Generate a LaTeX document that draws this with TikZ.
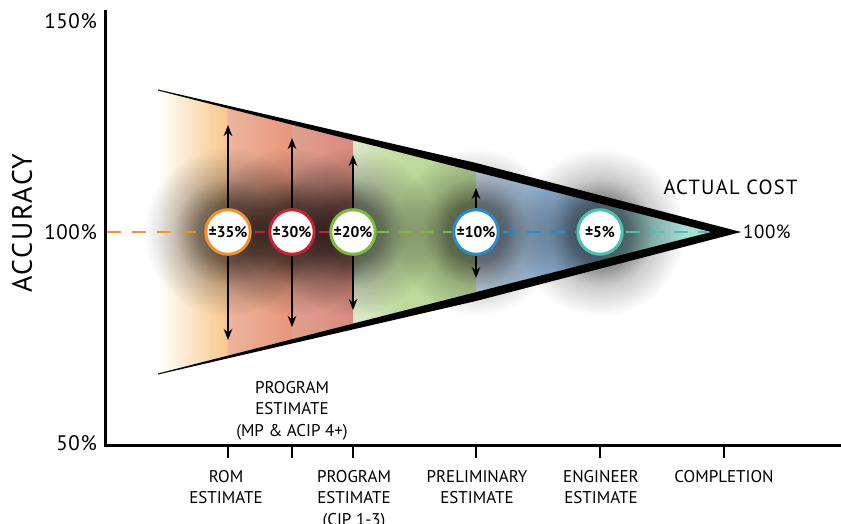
\documentclass[tikz,border=0pt]{standalone}
\usepackage{fontspec}
\setmainfont{PT Sans}
\usetikzlibrary{arrows.meta,fadings}
\definecolor{cOrange}{HTML}{F0922E}
\definecolor{cRed}{HTML}{C62233}
\definecolor{cGreen}{HTML}{7CBB40}
\definecolor{cBlue}{HTML}{2A8BC9}
\definecolor{cTeal}{HTML}{4EBFB1}
\definecolor{fOrange}{HTML}{F9C68A}
\definecolor{fSalmonA}{HTML}{EDB49E}
\definecolor{fSalmonB}{HTML}{E7967A}
\definecolor{fRoseA}{HTML}{E0A090}
\definecolor{fRoseB}{HTML}{D98A7E}
\definecolor{fGreenA}{HTML}{DCEACB}
\definecolor{fGreenB}{HTML}{BEDA9A}
\definecolor{fBlueA}{HTML}{D2E0EF}
\definecolor{fBlueB}{HTML}{98BDE0}
\definecolor{fTeal}{HTML}{A8DCD5}
\pgfdeclareradialshading{haloshade}{\pgfpoint{0bp}{0bp}}{color(0bp)=(white); color(9bp)=(white!75!black); color(16bp)=(white!30!black); color(25bp)=(black); color(50bp)=(black)}
\pgfdeclarefading{halo}{\pgfuseshading{haloshade}}
\begin{document}
\begin{tikzpicture}[x=1pt,y=-1pt,
  axisline/.style={line width=3pt},
  tickline/.style={line width=2.5pt},
  dashline/.style={line width=2.4pt, dash pattern=on 14pt off 11pt},
  estcircle/.style={circle, draw, fill=white, line width=3pt, minimum size=44.5pt, inner sep=0pt, font=\fontsize{15.5}{17}\selectfont\bfseries},
  vararrow/.style={line width=2pt, -{Stealth[length=11pt,width=8.5pt]}},
  ticklabel/.style={anchor=north, align=center, inner sep=0pt, font=\fontsize{17}{21.5}\selectfont},
  pctlabel/.style={anchor=east, inner sep=0pt, font=\fontsize{21}{24}\selectfont\addfontfeature{LetterSpace=3}},
  shadowhalo/.style={black, opacity=0.68, path fading=halo}
]
\useasboundingbox (0,0) rectangle (841,524);

% coloured fills inside the cone
\begin{scope}
  \clip (158,90.5) -- (711,232) -- (158,373.5) -- cycle;
  \shade[left color=white, right color=fOrange] (158,80) rectangle (228.5,385);
  \shade[left color=fSalmonA, right color=fSalmonB] (228,80) rectangle (292.5,385);
  \shade[left color=fRoseA, right color=fRoseB] (292,80) rectangle (353.5,385);
  \shade[left color=fGreenA, right color=fGreenB] (353,80) rectangle (405,385);
  \fill[fGreenB] (404,80) rectangle (476.5,385);
  \shade[left color=fBlueA, right color=fBlueB] (476,80) rectangle (545,385);
  \fill[fBlueB] (544,80) rectangle (600.5,385);
  \shade[left color=fBlueB!60!fTeal, right color=fTeal] (600,80) rectangle (640,385);
  \fill[fTeal] (639,80) rectangle (715,385);
\end{scope}

% centres
\coordinate (p1) at (228,232);
\coordinate (p2) at (292,232);
\coordinate (p3) at (353,232);
\coordinate (p4) at (476,232);
\coordinate (p5) at (600,232);

% soft shadows
\foreach \p in {p1,p2,p3,p4,p5}
  \fill[shadowhalo] (\p) circle (84);

% black cone edges
\fill (158,89.5) -- (476,163) -- (741,232) -- (711,232) -- (158,90.5) -- cycle;
\fill (158,374.5) -- (476,301) -- (741,232) -- (711,232) -- (158,373.5) -- cycle;

% axes
\coordinate (ytop) at (105,10);
\coordinate (orig) at (105,445);
\coordinate (xend) at (845,445);
\draw[axisline] (ytop) -- (orig) -- (xend);
\foreach \x in {228,292,353,476,600,724}
  \draw[tickline] (\x,445) -- (\x,458);

% axis labels
\node[pctlabel] (l150) at (97,21) {150\%};
\node[pctlabel] (l100) at (97,232) {100\%};
\node[pctlabel] (l50) at (97,443) {50\%};
\node[rotate=90, inner sep=0pt, font=\fontsize{28}{30}\selectfont\addfontfeature{LetterSpace=6}] (acc) at (22,223) {ACCURACY};

% estimate circles
\node[estcircle, draw=cOrange] (c1) at (p1) {±35\%};
\node[estcircle, draw=cRed] (c2) at (p2) {±30\%};
\node[estcircle, draw=cGreen] (c3) at (p3) {±20\%};
\node[estcircle, draw=cBlue] (c4) at (p4) {±10\%};
\node[estcircle, draw=cTeal] (c5) at (p5) {±5\%};

% range arrows
\coordinate (u1) at (228,125); \coordinate (d1) at (228,340);
\coordinate (u2) at (292,138); \coordinate (d2) at (292,327);
\coordinate (u3) at (353,155); \coordinate (d3) at (353,310);
\coordinate (u4) at (476,188); \coordinate (d4) at (476,278);
\foreach \i in {1,2,3,4}{
  \draw[vararrow] (c\i) -- (u\i);
  \draw[vararrow] (c\i) -- (d\i);
}

% dashed 100% line
\coordinate (dstart) at (107,232);
\coordinate (dend) at (709,232);
\draw[dashline, cOrange] (dstart) -- (c1);
\draw[dashline, cRed, dash pattern=on 10pt off 6pt, dash phase=-3pt] (c1) -- (c2);
\draw[dashline, cRed, dash pattern=on 10pt off 6pt, dash phase=-3pt] (c2) -- (c3);
\draw[dashline, cGreen, dash pattern=on 12pt off 10pt] (c3) -- (c4);
\draw[dashline, cBlue, dash pattern=on 14pt off 10pt, dash phase=-3pt] (c4) -- (c5);
\draw[dashline, cTeal, dash pattern=on 14pt off 10pt, dash phase=-2pt] (c5) -- (dend);

% right labels
\node[anchor=west, inner sep=0pt, font=\fontsize{19}{22}\selectfont\addfontfeature{LetterSpace=3}] (r100) at (743,232) {100\%};
\node[inner sep=0pt, font=\fontsize{20.5}{24}\selectfont\addfontfeature{LetterSpace=6}] (actual) at (730.5,187.5) {ACTUAL COST};

% program estimate above axis
\node[ticklabel] (progmp) at (292,381) {PROGRAM\\ESTIMATE\\(MP \& ACIP 4+)};

% tick labels
\node[ticklabel] (rom) at (226,470) {ROM\\ESTIMATE};
\node[ticklabel] (progcip) at (354,470) {PROGRAM\\ESTIMATE\\(CIP 1-3)};
\node[ticklabel] (prelim) at (477,470) {PRELIMINARY\\ESTIMATE};
\node[ticklabel] (eng) at (601,470) {ENGINEER\\ESTIMATE};
\node[ticklabel] (compl) at (724,470) {COMPLETION};
\end{tikzpicture}
\end{document}
